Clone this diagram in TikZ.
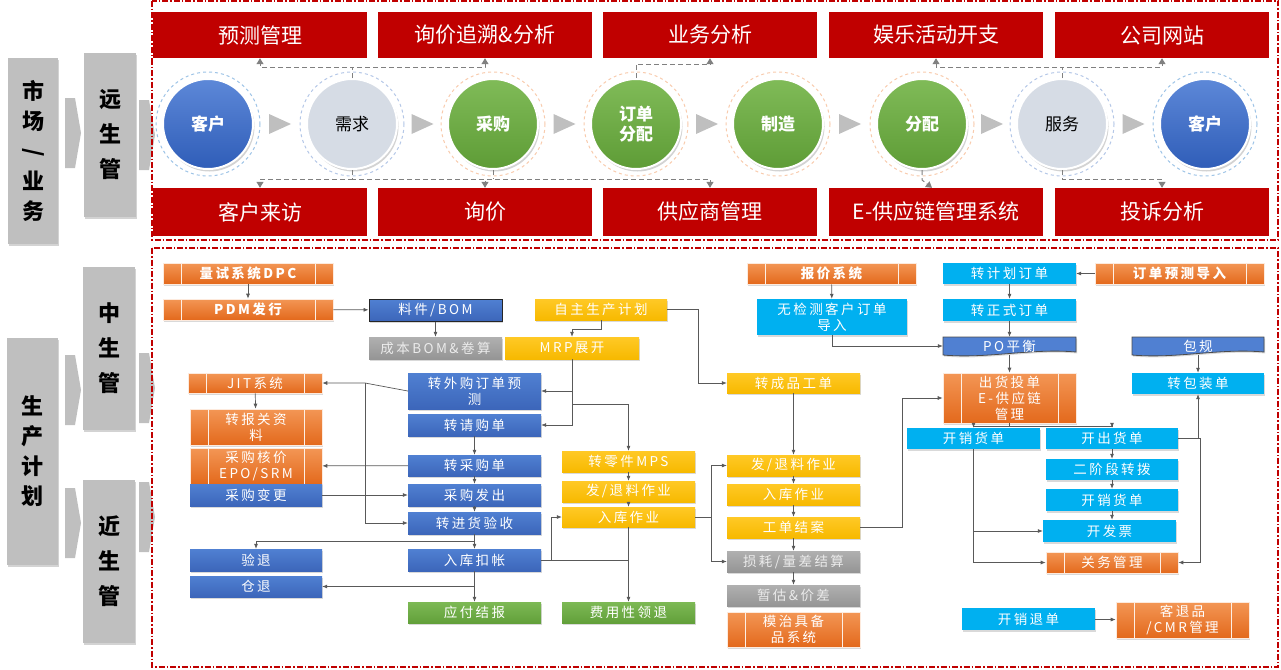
\documentclass[tikz,border=0pt]{standalone}
\usepackage{fontspec}
\setmainfont{Noto Sans CJK SC}
\newfontfamily\gesperrt{Noto Sans CJK SC}[LetterSpace=18]
\usetikzlibrary{arrows.meta,calc,shadows}

\definecolor{rot}{HTML}{C00000}
\definecolor{seite}{HTML}{BFBFBF}
\definecolor{hinw}{HTML}{808080}
\definecolor{kblauA}{HTML}{5D88D8}
\definecolor{kblauB}{HTML}{2F5DB8}
\definecolor{kgrau}{HTML}{D6DCE5}
\definecolor{kgruenA}{HTML}{80BB58}
\definecolor{kgruenB}{HTML}{5E9C36}
\definecolor{ringblau}{HTML}{9DC3E6}
\definecolor{ringgrau}{HTML}{B4C7E7}
\definecolor{ringgruen}{HTML}{F8CBAD}
\definecolor{orA}{HTML}{F39655}
\definecolor{orB}{HTML}{E3691C}
\definecolor{blA}{HTML}{5080D2}
\definecolor{blB}{HTML}{3C66BA}
\definecolor{geA}{HTML}{FFC926}
\definecolor{geB}{HTML}{F7B900}
\definecolor{hbl}{HTML}{00B0F0}
\definecolor{grA}{HTML}{B0B0B0}
\definecolor{grB}{HTML}{959595}
\definecolor{gnA}{HTML}{7DB955}
\definecolor{gnB}{HTML}{62A03A}

\begin{document}
\begin{tikzpicture}[x=1pt,y=-1pt,>={Latex[length=5pt,width=4pt]},
  seitbox/.style={fill=seite,inner sep=0,align=center,font=\bfseries\fontsize{22}{30}\selectfont,
    drop shadow={shadow xshift=1pt,shadow yshift=-2pt,opacity=0.35}},
  rahmen/.style={draw=rot,line width=1.4pt,dash pattern=on 6pt off 2pt on 1.5pt off 2pt},
  rotbox/.style={fill=rot,text=white,inner sep=0,font=\fontsize{21}{24}\selectfont},
  kreis/.style={circle,minimum size=90,inner sep=0,align=center,draw=white,line width=2pt,
    text=white,font=\bfseries\fontsize{17}{20}\selectfont,
    drop shadow={shadow xshift=1.5pt,shadow yshift=-2.5pt,opacity=0.35}},
  kblau/.style={top color=kblauA,bottom color=kblauB},
  kgrau/.style={fill=kgrau,text=black,font=\fontsize{17}{20}\selectfont},
  kgruen/.style={top color=kgruenA,bottom color=kgruenB},
  ring/.style={dashed,line width=1pt},
  dreieck/.style={fill=seite},
  hinweis/.style={draw=hinw,line width=1pt,dash pattern=on 5pt off 3pt,-{Triangle[length=6pt,width=7pt]}},
  kasten/.style={inner sep=0,align=center,text=white,font=\gesperrt\fontsize{13.5}{16}\selectfont,
    drop shadow={shadow xshift=1.2pt,shadow yshift=-1.5pt,opacity=0.3}},
  prozess/.style={kasten,top color=orA,bottom color=orB,draw=white!80!orA,line width=0.6pt,
    path picture={\draw[white!85!orA,line width=0.8pt]
      ([xshift=18pt]path picture bounding box.north west) -- ([xshift=18pt]path picture bounding box.south west)
      ([xshift=-18pt]path picture bounding box.north east) -- ([xshift=-18pt]path picture bounding box.south east);}},
  blau/.style={kasten,top color=blA,bottom color=blB},
  gelb/.style={kasten,top color=geA,bottom color=geB},
  hblau/.style={kasten,fill=hbl},
  grau/.style={kasten,top color=grA,bottom color=grB,text=white!92!black},
  gruen/.style={kasten,top color=gnA,bottom color=gnB},
  dokbox/.style={fill=blA,draw=black!70,line width=0.8pt,
    drop shadow={shadow xshift=1.2pt,shadow yshift=-1.5pt,opacity=0.3}},
  pfeil/.style={draw=black!65,line width=0.7pt,->},
  linie/.style={draw=black!65,line width=0.7pt}]

\useasboundingbox (0,0) rectangle (1281,669);

\def\feld#1#2#3#4#5#6#7{
  \node[#2,minimum width={#5-#3},minimum height={#6-#4}] (#1) at ({(#3+#5)/2},{(#4+#6)/2}) {#7};
}
\def\dokument#1#2#3#4#5#6{
  \filldraw[dokbox] (#2,#3) -- (#4,#3) -- (#4,#5-3) .. controls ({#4-45},#5-7) and ({#2+45},#5+4) .. (#2,#5) -- cycle;
  \node[inner sep=0,minimum width={#4-#2},minimum height={#5-#3},text=white,
    font=\gesperrt\fontsize{13.5}{16}\selectfont] (#1) at ({(#2+#4)/2},{(#3+#5)/2}) {#6};
}

% linke Spalte
\node[seitbox,minimum width=50,minimum height=186] (markt) at (33,151) {市\\场\\\rotatebox[origin=c]{-90}{/}\\业\\务};
\node[seitbox,minimum width=52,minimum height=164,font=\bfseries\fontsize{22}{35}\selectfont] (fern) at (110,135) {远\\生\\管};
\node[seitbox,minimum width=51,minimum height=227] (prod) at (32.5,451.5) {生\\产\\计\\划};
\node[seitbox,minimum width=52,minimum height=163,font=\bfseries\fontsize{22}{35}\selectfont] (mittel) at (109,348.5) {中\\生\\管};
\node[seitbox,minimum width=52,minimum height=163,font=\bfseries\fontsize{22}{35}\selectfont] (nah) at (109,561.5) {近\\生\\管};
\foreach \x/\y in {65/98,139/100,65/355,65/488,139/353,139/482}
  \fill[seite] (\x,\y) -- ++(10,0) -- ++(6,35) -- ++(-6,35) -- ++(-10,0) -- cycle;

\draw[rahmen] (152,1) rectangle (1278,240);
\draw[rahmen] (152,248) rectangle (1278,667);

% oben
\foreach \i/\x/\t in {1/153/预测管理,2/378/询价追溯\&分析,3/603/业务分析,4/829/娱乐活动开支,5/1055/公司网站}
  \feld{o\i}{rotbox}{\x}{12}{\x+214}{58}{\t};
\foreach \i/\x/\t in {1/153/客户来访,2/378/询价,3/603/供应商管理,4/829/E-供应链管理系统,5/1055/投诉分析}
  \feld{u\i}{rotbox}{\x}{188}{\x+214}{236}{\t};

\foreach \n/\x/\art/\rf/\txt in {k1/208/kblau/ringblau/客户,k2/352/kgrau/ringgrau/需求,
    k3/493/kgruen/ringgruen/采购,k4/636/kgruen/ringgruen/{订单\\分配},k5/778/kgruen/ringgruen/制造,
    k6/922/kgruen/ringgruen/分配,k7/1062/kgrau/ringgrau/服务,k8/1205/kblau/ringblau/客户}{
  \draw[ring,\rf] (\x,124) circle[radius=52];
  \node[kreis,\art] (\n) at (\x,124) {\txt};
}
\foreach \a/\b in {k1/k2,k2/k3,k3/k4,k4/k5,k5/k6,k6/k7,k7/k8}
  \fill[dreieck] ($(\a)!0.5!(\b)$) ++(-11,-10) -- ++(22,10) -- ++(-22,10) -- cycle;

\draw[hinweis] (k2.north) -- ++(0,-11) -| (o1.south);
\draw[hinweis] (k2.north) -- ++(0,-11) -| (o2.south);
\draw[hinweis] (k4.north) -- ++(0,-14) -| (o3.south);
\draw[hinweis] (k7.north) -- ++(0,-11) -| (o4.south);
\draw[hinweis] (k7.north) -- ++(0,-11) -| (o5.south);
\draw[hinweis] (k2.south) -- ++(0,9) -| (u1.north);
\draw[hinweis] (k2.south) -- ++(0,9) -| (u2.north);
\draw[hinweis] (k2.south) -- ++(0,9) -| (u3.north);
\draw[hinweis,-] (k3.south) -- ++(0,9);
\draw[hinweis] (k6.south) -- ++(0,10) -- ([xshift=-4pt]u4.north);
\draw[hinweis] (k7.south) -- ++(0,9) -| (u5.north);

% unten
\feld{dpc}{prozess}{163}{263}{333}{284}{\bfseries 量试系统DPC}
\feld{pdm}{prozess}{163}{299}{333}{320}{\bfseries PDM发行}
\feld{bom}{blau,draw=black!85,line width=1pt}{369}{299}{502}{321}{料件/BOM}
\feld{kostbom}{grau}{369}{337}{502}{359}{成本BOM\&卷算}
\feld{eigen}{gelb}{535}{299}{667}{320}{自主生产计划}
\feld{mrp}{gelb}{505}{337}{639}{359}{MRP展开}
\feld{jit}{prozess}{188}{373}{322}{393}{JIT系统}
\feld{zoll}{prozess}{190}{409}{322}{445}{转报关资\\料}
\feld{epo}{prozess}{190}{448}{322}{484}{采购核价\\EPO/SRM}
\feld{aend}{blau}{190}{484}{322}{506}{采购变更}
\feld{jitvor}{blau}{408}{373}{541}{409}{转外购订单预\\测}
\feld{anfrage}{blau}{408}{414}{541}{436}{转请购单}
\feld{bestell}{blau}{408}{455}{541}{476}{转采购单}
\feld{ausgabe}{blau}{408}{484}{541}{506}{采购发出}
\feld{wein}{blau}{408}{512}{541}{534}{转进货验收}
\feld{rueck}{blau}{190}{549}{322}{571}{验退}
\feld{buchung}{blau}{408}{549}{541}{571}{入库扣帐}
\feld{lagerrueck}{blau}{190}{576}{322}{597}{仓退}
\feld{zahl}{gruen}{408}{602}{541}{623}{应付结报}
\feld{mps}{gelb}{562}{451}{695}{472}{转零件MPS}
\feld{ausgA}{gelb}{562}{481}{695}{502}{发/退料作业}
\feld{lagerA}{gelb}{562}{507}{695}{527}{入库作业}
\feld{spesen}{gruen}{562}{602}{695}{623}{费用性领退}
\feld{fert}{gelb}{727}{373}{860}{393}{转成品工单}
\feld{ausgB}{gelb}{727}{455}{860}{476}{发/退料作业}
\feld{lagerB}{gelb}{727}{484}{860}{505}{入库作业}
\feld{abschluss}{gelb}{727}{517}{860}{538}{工单结案}
\feld{verlust}{grau}{727}{551}{860}{572}{损耗/量差结算}
\feld{schaetz}{grau}{727}{585}{860}{606}{暂估\&价差}
\feld{werkzeug}{prozess}{727}{612}{860}{647}{模治具备\\品系统}
\feld{angebot}{prozess}{747}{263}{916}{284}{\bfseries 报价系统}
\feld{import}{hblau}{757}{299}{907}{335}{无检测客户订单\\导入}
\feld{plan}{hblau}{943}{263}{1076}{284}{转计划订单}
\feld{prognose}{prozess}{1095}{263}{1264}{284}{\bfseries 订单预测导入}
\feld{formal}{hblau}{943}{299}{1076}{321}{转正式订单}
\dokument{po}{943}{337}{1076}{355}{PO平衡}
\dokument{paket}{1132}{337}{1264}{355}{包规}
\feld{versand}{prozess}{943}{373}{1076}{423}{出货投单\\E-供应链\\管理}
\feld{packauf}{hblau}{1132}{373}{1264}{394}{转包装单}
\feld{vk}{hblau}{907}{428}{1040}{449}{开销货单}
\feld{ausg}{hblau}{1046}{428}{1178}{449}{开出货单}
\feld{zwei}{hblau}{1046}{459}{1178}{480}{二阶段转拨}
\feld{vkzwei}{hblau}{1046}{489}{1178}{511}{开销货单}
\feld{rechnung}{hblau}{1043}{520}{1176}{542}{开发票}
\feld{zollm}{prozess}{1046}{552}{1178}{573}{关务管理}
\feld{retour}{hblau}{962}{608}{1095}{630}{开销退单}
\feld{cmr}{prozess}{1116}{602}{1249}{638}{客退品\\/CMR管理}

\draw[pfeil] (dpc) -- (pdm);
\draw[pfeil] (pdm) -- (bom);
\draw[pfeil] (bom) -- (kostbom);
\draw[pfeil] (eigen.south) -- ++(0,9) -| (mrp.north);
\draw[pfeil] (eigen.east) -- ++(31,0) |- (fert.west);
\draw[pfeil] (mrp.south) |- (jitvor.east);
\draw[pfeil] (mrp.south) |- (anfrage.east);
\draw[pfeil] (mrp.south) ++(0,45) -| (mps.north);
\coordinate (knick) at (365,383);
\draw[pfeil] (jitvor.west) -- (knick) -- (jit.east);
\draw[pfeil] (knick) |- (wein.west);
\draw[pfeil] (jit) -- (zoll);
\draw[pfeil] (anfrage) -- (bestell);
\draw[pfeil] (bestell) -- (epo);
\draw[pfeil] (aend) -- (ausgabe);
\draw[pfeil] (bestell) -- (ausgabe);
\draw[pfeil] (ausgabe) -- (wein);
\draw[pfeil] (wein) -- (buchung);
\draw[pfeil] (wein.south) -- ++(0,7) -| (rueck.north);
\draw[pfeil] (buchung) -- (zahl);
\draw[pfeil] (buchung.south) |- (lagerrueck.east);
\draw[pfeil] (buchung.east) -- ++(10,0) |- (lagerA.west);
\draw[linie] (buchung.east) -- (buchung.east -| lagerA.south);
\draw[pfeil] (mps) -- (ausgA);
\draw[pfeil] (ausgA) -- (lagerA);
\draw[pfeil] (lagerA) -- (spesen);
\draw[pfeil] (lagerA.east) -- ++(16,0) |- (ausgB.west);
\draw[pfeil] (lagerA.east) -- ++(16,0) |- (verlust.west);
\draw[pfeil] (fert) -- (ausgB);
\draw[pfeil] (ausgB) -- (lagerB);
\draw[pfeil] (lagerB) -- (abschluss);
\draw[pfeil] (abschluss) -- (verlust);
\draw[pfeil] (verlust) -- (schaetz);
\draw[pfeil] (abschluss.east) -- ++(42,0) |- (versand.west);
\draw[pfeil] (angebot) -- (import);
\draw[pfeil] (import.south) |- (po.west);
\draw[pfeil] (prognose) -- (plan);
\draw[pfeil] (plan) -- (formal);
\draw[pfeil] (formal) -- (po);
\draw[pfeil] (po) -- (versand);
\draw[pfeil] (paket) -- (packauf);
\draw[pfeil] (versand.south) -- ++(0,3) -| (vk.north);
\draw[pfeil] (versand.south) -- ++(0,3) -| (ausg.north);
\draw[pfeil] (ausg.east) -| (packauf.south);
\draw[pfeil] (ausg.east) -- ++(22,0) |- (zollm.east);
\draw[pfeil] (ausg) -- (zwei);
\draw[pfeil] (zwei) -- (vkzwei);
\draw[pfeil] (vkzwei.south) -- (vkzwei.south |- rechnung.north);
\draw[pfeil] (vk.south) |- (rechnung.west);
\draw[pfeil] (vk.south) |- (zollm.west);
\draw[pfeil] (retour) -- (cmr);

\end{tikzpicture}
\end{document}
